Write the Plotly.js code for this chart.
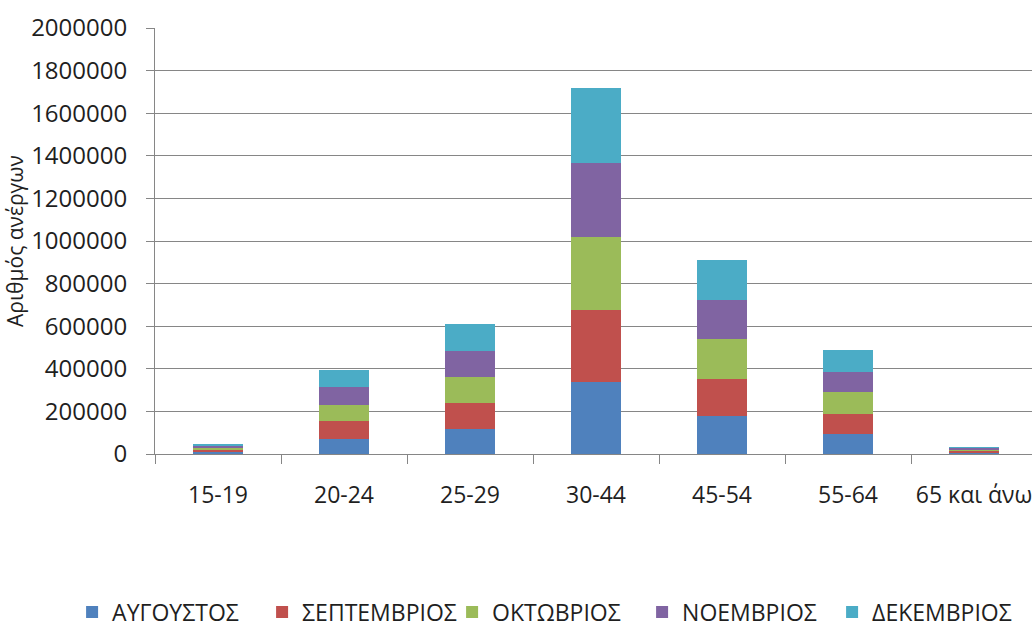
<!DOCTYPE html>
<html>
<head>
<meta charset="utf-8">
<script src="https://cdn.plot.ly/plotly-3.0.1.min.js"></script>
<style>
html,body{margin:0;padding:0;overflow:hidden;background:#fff;}
#chart{width:1080px;height:660px;}
</style>
</head>
<body>
<div id="chart"></div>
<script>
const categories = ["15-19", "20-24", "25-29", "30-44", "45-54", "55-64", "65 και άνω"];
const seriesNames = ["ΑΥΓΟΥΣΤΟΣ", "ΣΕΠΤΕΜΒΡΙΟΣ", "ΟΚΤΩΒΡΙΟΣ", "ΝΟΕΜΒΡΙΟΣ", "ΔΕΚΕΜΒΡΙΟΣ"];
const avgoustos   = [9000, 69000, 117000, 338000, 178000, 92000, 5000];
const septemvrios = [10000, 84000, 121000, 338000, 172000, 97000, 7000];
const oktovrios   = [10000, 78000, 125000, 343000, 189000, 101000, 7000];
const noemvrios   = [10000, 85000, 121000, 349000, 185000, 97000, 7000];
const dekemvrios  = [10000, 80000, 127000, 351000, 186000, 102000, 8000];
const colors = ["#4F81BD", "#C0504D", "#9BBB59", "#8064A2", "#4BACC6"];
const yTicks = [0, 200000, 400000, 600000, 800000, 1000000, 1200000, 1400000, 1600000, 1800000, 2000000];

const allSeries = [avgoustos, septemvrios, oktovrios, noemvrios, dekemvrios];
const font = "Open Sans, sans-serif";
const data = allSeries.map((vals, i) => ({
  type: "bar",
  name: seriesNames[i],
  x: categories,
  y: vals,
  marker: {color: colors[i], line: {width: 0}},
  hoverinfo: "x+y+name"
}));

const layout = {
  width: 1080,
  height: 660,
  margin: {l: 155, r: 43, t: 28, b: 206},
  barmode: "stack",
  bargap: 0.6,
  paper_bgcolor: "#fff",
  plot_bgcolor: "#fff",
  font: {family: font, color: "#1f1f1f", size: 23},
  showlegend: true,
  legend: {
    orientation: "h",
    x: -0.094, xanchor: "left",
    y: -0.371, yanchor: "middle",
    font: {family: font, size: 23, color: "#1f1f1f"},
    traceorder: "normal",
    itemwidth: 30,
    entrywidth: 145,
    entrywidthmode: "pixels"
  },
  xaxis: {
    type: "category",
    automargin: false,
    tickangle: 0,
    tickson: "boundaries",
    ticks: "outside",
    ticklen: 9,
    tickcolor: "#868686",
    showline: true,
    linecolor: "#868686",
    linewidth: 1,
    showgrid: false,
    ticklabelstandoff: 20,
    tickfont: {family: font, size: 23, color: "#1f1f1f"},
    fixedrange: true
  },
  yaxis: {
    automargin: false,
    range: [0, 2000000],
    tickvals: yTicks,
    ticktext: yTicks.map(String),
    ticks: "outside",
    ticklen: 8,
    tickcolor: "#868686",
    showline: true,
    linecolor: "#868686",
    linewidth: 1,
    showgrid: true,
    gridcolor: "#868686",
    gridwidth: 1,
    zeroline: false,
    ticklabelstandoff: 14,
    tickfont: {family: font, size: 24, color: "#1f1f1f"},
    title: {text: "Αριθμός ανέργων", font: {family: font, size: 21, color: "#1f1f1f"}},
    fixedrange: true
  }
};

Plotly.newPlot("chart", data, layout, {displayModeBar: false, staticPlot: true});
</script>
</body>
</html>
